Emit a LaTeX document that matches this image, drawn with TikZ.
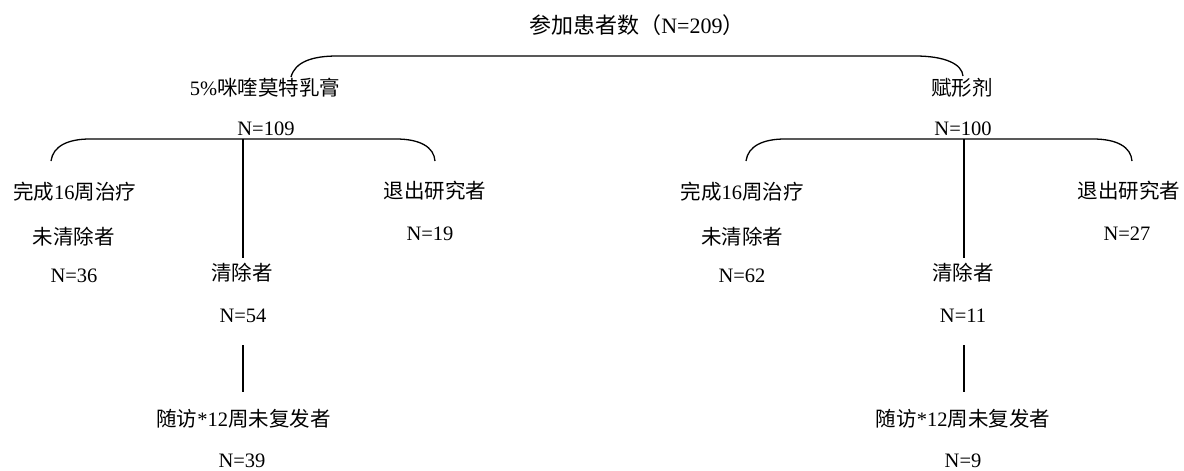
\documentclass[tikz,border=0pt]{standalone}
\usepackage{fontspec}
\setmainfont{Liberation Serif}
\newfontfamily\cjk{Noto Sans CJK SC}
\begin{document}
\begin{tikzpicture}[x=1pt,y=-1pt,
  lbl/.style={inner sep=0pt,anchor=base,font=\fontsize{20.5}{24}\selectfont},
  ln/.style={line width=1.3pt}]
\useasboundingbox (0,0) rectangle (1184,471);
% texts (positions are baselines)
\node[lbl,font=\fontsize{22}{26}\selectfont] (root) at (637,33) {{\cjk 参加患者数（}N=209{\cjk ）}};
\node[lbl] (a) at (265,95) {5\%{\cjk 咪喹莫特乳膏}};
\node[lbl] (an) at (266,135) {N=109};
\node[lbl] (b) at (962,95) {{\cjk 赋形剂}};
\node[lbl] (bn) at (963,135) {N=100};
\node[lbl] (a1) at (74.5,199.5) {{\cjk 完成}16{\cjk 周治疗}};
\node[lbl] (a1b) at (73.5,244.5) {{\cjk 未清除者}};
\node[lbl] (a1n) at (74,282) {N=36};
\node[lbl] (a2) at (242,280.5) {{\cjk 清除者}};
\node[lbl] (a2n) at (243,322.5) {N=54};
\node[lbl] (a3) at (243.5,426.5) {{\cjk 随访}*12{\cjk 周未复发者}};
\node[lbl] (a3n) at (242,467) {N=39};
\node[lbl] (a4) at (435,198.5) {{\cjk 退出研究者}};
\node[lbl] (a4n) at (430,240) {N=19};
\node[lbl] (b1) at (742,199.5) {{\cjk 完成}16{\cjk 周治疗}};
\node[lbl] (b1b) at (742,244.5) {{\cjk 未清除者}};
\node[lbl] (b1n) at (742,282) {N=62};
\node[lbl] (b2) at (963,280.5) {{\cjk 清除者}};
\node[lbl] (b2n) at (963,322.5) {N=11};
\node[lbl] (b3) at (963,426.5) {{\cjk 随访}*12{\cjk 周未复发者}};
\node[lbl] (b3n) at (963,467) {N=9};
\node[lbl] (b4) at (1129,198.5) {{\cjk 退出研究者}};
\node[lbl] (b4n) at (1127,240) {N=27};
% top bracket
\coordinate (t1) at (291,77);
\coordinate (t2) at (963,76);
\draw[ln] (t1) .. controls (295,62) and (312,56) .. (337,56) -- (915,56)
  .. controls (945,56) and (962,64) .. (t2);
% left bracket
\coordinate (l1) at (51,161);
\coordinate (l2) at (435,161);
\draw[ln] (l1) .. controls (53,146) and (68,139) .. (90,139) -- (396,139)
  .. controls (420,139) and (434,147) .. (l2);
\coordinate (lt) at (243,139);
\coordinate (lb) at (243,258);
\draw[ln] (lt) -- (lb);
\coordinate (lv1) at (243,345);
\coordinate (lv2) at (243,392);
\draw[ln] (lv1) -- (lv2);
% right bracket
\coordinate (r1) at (746,161);
\coordinate (r2) at (1132,161);
\draw[ln] (r1) .. controls (748,146) and (763,139) .. (785,139) -- (1093,139)
  .. controls (1117,139) and (1131,147) .. (r2);
\coordinate (rt) at (964,139);
\coordinate (rb) at (964,258);
\draw[ln] (rt) -- (rb);
\coordinate (rv1) at (964,345);
\coordinate (rv2) at (964,392);
\draw[ln] (rv1) -- (rv2);
\end{tikzpicture}
\end{document}
